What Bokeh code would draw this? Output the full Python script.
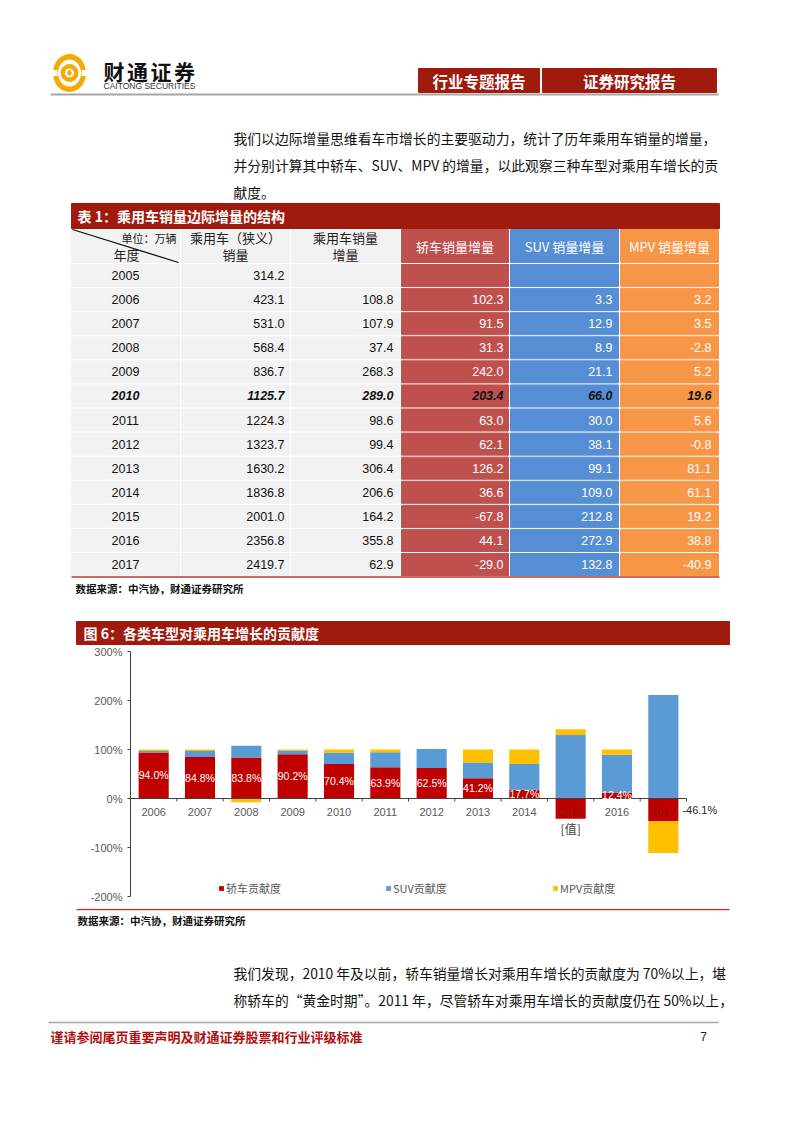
import numpy as np
from bokeh.plotting import figure
from bokeh.models import Range1d, Legend, LegendItem, FixedTicker, PrintfTickFormatter
from bokeh.embed import file_html
from bokeh.resources import INLINE
from bokeh.core.properties import value

# ---------------- data: table ----------------
table_years = ["2005", "2006", "2007", "2008", "2009", "2010", "2011",
               "2012", "2013", "2014", "2015", "2016", "2017"]
total_sales = [314.2, 423.1, 531.0, 568.4, 836.7, 1125.7, 1224.3,
               1323.7, 1630.2, 1836.8, 2001.0, 2356.8, 2419.7]
total_incr = [None, 108.8, 107.9, 37.4, 268.3, 289.0, 98.6,
              99.4, 306.4, 206.6, 164.2, 355.8, 62.9]
sedan_incr = [None, 102.3, 91.5, 31.3, 242.0, 203.4, 63.0,
              62.1, 126.2, 36.6, -67.8, 44.1, -29.0]
suv_incr = [None, 3.3, 12.9, 8.9, 21.1, 66.0, 30.0,
            38.1, 99.1, 109.0, 212.8, 272.9, 132.8]
mpv_incr = [None, 3.2, 3.5, -2.8, 5.2, 19.6, 5.6,
            -0.8, 81.1, 61.1, 19.2, 38.8, -40.9]
highlight_year = "2010"

# ---------------- data: chart ----------------
chart_years = ["2006", "2007", "2008", "2009", "2010", "2011",
               "2012", "2013", "2014", "2015", "2016", "2017"]
sedan_pct = [94.0, 84.8, 83.8, 90.2, 70.4, 63.9, 62.5, 41.2, 17.7, -41.3, 12.4, -46.1]
suv_pct = [3.0, 12.0, 23.8, 7.9, 22.8, 30.4, 38.3, 32.3, 52.8, 129.6, 76.7, 211.1]
mpv_pct = [2.9, 3.2, -7.5, 1.9, 6.8, 5.7, -0.8, 26.5, 29.6, 11.7, 10.9, -65.0]
y_ticks = [-200, -100, 0, 100, 200, 300]
series_names = ["轿车贡献度", "SUV贡献度", "MPV贡献度"]

# ---------------- styles ----------------
CJK = "Noto Sans CJK SC"
NUM = "Liberation Sans Narrow, Liberation Sans, Noto Sans CJK SC"
ARIAL = "Liberation Sans, Noto Sans CJK SC"
DARKRED = "#A01A0E"
C_RED = "#C0504D"
C_BLUE = "#558ED5"
C_ORANGE = "#F79646"
BAR_RED = "#C00000"
BAR_BLUE = "#5B9BD5"
BAR_YEL = "#FFC000"
W = 786
OX, OY = 0, 0   # page position of the figures' top-left corner


def page_fig(y0, y1):
    p = figure(width=W, height=y1 - y0, x_range=Range1d(OX, OX + W), y_range=Range1d(y1, y0),
               output_backend="svg", toolbar_location=None, min_border=0,
               x_axis_location=None, y_axis_location=None, title=None)
    p.outline_line_color = None
    p.grid.visible = False
    return p


def txt(p, x, y, s, size, color="#222222", font=CJK, align="left", style="normal", baseline="middle"):
    p.text(x=[x], y=[y], text=[s], text_font=value(font), text_font_size=f"{size}px",
           text_color=color, text_align=align, text_baseline=baseline, text_font_style=style)


Y_A0, Y_A1, Y_B1 = OY, 645, 908
Y_C1 = OY + 1117

# =============== top part ===============
pA = page_fig(Y_A0, Y_A1)

# logo
GOLD = "#F4AA00"
pA.ellipse(x=[69], y=[72.5], width=33, height=38, fill_color=GOLD, line_color=None)
pA.ellipse(x=[69], y=[72.5], width=23, height=27, fill_color="white", line_color=None)
pA.quad(left=[51, 81.5], right=[56.5, 87], top=[70, 70], bottom=[75, 75], color="white")
pA.annulus(x=[69], y=[72.5], inner_radius=5, outer_radius=8.5, color=GOLD)
pA.scatter(x=[69], y=[72.5], size=6, marker="diamond", color=GOLD)

for i, ch in enumerate("财通证券"):
    txt(pA, 103 + i * 23.5, 70, ch, 21, "#111111", style="bold")
txt(pA, 103, 85, "CAITONG SECURITIES", 8.5, "#333333", font=ARIAL)

# header boxes
pA.quad(left=[418, 542], right=[539, 716], top=[68, 68], bottom=[92, 92], color=DARKRED)
txt(pA, 478.5, 80, "行业专题报告", 15.5, "white", align="center", style="bold")
txt(pA, 629, 80, "证券研究报告", 15.5, "white", align="center", style="bold")
pA.segment(x0=[50], x1=[718], y0=[94], y1=[94], line_color="#A6A6A6", line_width=2)

# paragraph
para1 = ["我们以边际增量思维看车市增长的主要驱动力，统计了历年乘用车销量的增量，",
         "并分别计算其中轿车、SUV、MPV 的增量，以此观察三种车型对乘用车增长的贡",
         "献度。"]
for k, line in enumerate(para1):
    txt(pA, 233, 137 + k * 27, line, 13.8, "#111111")

# table title
pA.quad(left=[71], right=[719], top=[203], bottom=[228], color=DARKRED)
txt(pA, 77, 215.5, "表 1：乘用车销量边际增量的结构", 14, "white", style="bold")

cols = [71, 180, 290, 400, 509, 619, 719]
col_colors = ["#F2F2F2", "#F2F2F2", "#F2F2F2", C_RED, C_BLUE, C_ORANGE]
row_top = 263.0
row_h = 24.08
nrows = len(table_years)

# header row cells
for j in range(6):
    pA.quad(left=[cols[j] + (0 if j == 0 else 1)], right=[cols[j + 1] - 1],
            top=[229], bottom=[262], color=col_colors[j])
pA.segment(x0=[72], x1=[178], y0=[229], y1=[262], line_color="#111111", line_width=1.3)
txt(pA, 176, 237, "单位：万辆", 11, "#222222", align="right")
txt(pA, 113, 254, "年度", 13, "#222222")
txt(pA, 235, 237, "乘用车（狭义）", 13, "#222222", align="center")
txt(pA, 235, 254, "销量", 13, "#222222", align="center")
txt(pA, 345, 237, "乘用车销量", 13, "#222222", align="center")
txt(pA, 345, 254, "增量", 13, "#222222", align="center")
txt(pA, 454.5, 246, "轿车销量增量", 13, "white", align="center")
txt(pA, 564, 246, "SUV 销量增量", 13, "white", align="center")
txt(pA, 669, 246, "MPV 销量增量", 13, "white", align="center")

# body cells
lefts, rights, tops, bottoms, colors = [], [], [], [], []
for i in range(nrows):
    for j in range(6):
        lefts.append(cols[j] + (0 if j == 0 else 1))
        rights.append(cols[j + 1] - 1)
        tops.append(row_top + i * row_h + 1)
        bottoms.append(row_top + (i + 1) * row_h - 1)
        colors.append(col_colors[j])
pA.quad(left=lefts, right=rights, top=tops, bottom=bottoms, color=colors)


def fmt(v):
    return "" if v is None else f"{v:.1f}"


right_edges = [None, 284, 393, 503, 612, 711]
columns_vals = [total_sales, total_incr, sedan_incr, suv_incr, mpv_incr]
for i in range(nrows):
    yc = row_top + i * row_h + row_h / 2
    hl = table_years[i] == highlight_year
    style = "bold italic" if hl else "normal"
    txt(pA, 125, yc, table_years[i], 12.5, "#111111", font=NUM, align="center", style=style)
    for j, vals in enumerate(columns_vals):
        colr = "#111111" if (j < 2 or hl) else "white"
        txt(pA, right_edges[j + 1], yc, fmt(vals[i]), 12.5, colr, font=NUM, align="right", style=style)

pA.segment(x0=[71], x1=[719], y0=[576.5], y1=[576.5], line_color="#C0392B", line_width=1.5)
txt(pA, 75, 588, "数据来源：中汽协，财通证券研究所", 10.5, "#111111", style="bold")

# chart title bar
pA.quad(left=[76], right=[729], top=[621], bottom=[644], color=DARKRED)
txt(pA, 83, 632.5, "图 6：各类车型对乘用车增长的贡献度", 14, "white", style="bold")

# =============== chart ===============
n = len(chart_years)
xs = np.arange(1, n + 1)
frame_left, frame_right_axis, frame_right = 130, 686, 740
frame_top, frame_bottom = 651, 896
unit = (frame_right_axis - frame_left) / n
x_end = 0.5 + (frame_right - frame_left) / unit

pB = figure(width=W, height=Y_B1 - Y_A1, x_range=Range1d(0.5, x_end), y_range=Range1d(-200, 300),
            output_backend="svg", toolbar_location=None, title=None,
            min_border_left=frame_left - OX, min_border_right=OX + W - frame_right,
            min_border_top=frame_top - Y_A1, min_border_bottom=Y_B1 - frame_bottom,
            x_axis_location=None)
pB.outline_line_color = None
pB.grid.visible = False
pB.yaxis.ticker = FixedTicker(ticks=y_ticks)
pB.yaxis.formatter = PrintfTickFormatter(format="%d%%")
pB.yaxis.axis_line_color = "#404040"
pB.yaxis.major_tick_line_color = "#404040"
pB.yaxis.major_tick_out = 3
pB.yaxis.major_tick_in = 0
pB.yaxis.minor_tick_line_color = None
pB.yaxis.major_label_text_font = ARIAL
pB.yaxis.major_label_text_font_size = "11px"
pB.yaxis.major_label_text_color = "#595959"
pB.yaxis.major_label_standoff = 5

pos = np.zeros(n)
neg = np.zeros(n)
renderers = []
segs = []
for vals, colr in zip([sedan_pct, suv_pct, mpv_pct], [BAR_RED, BAR_BLUE, BAR_YEL]):
    v = np.array(vals, dtype=float)
    b = np.where(v >= 0, pos, neg)
    t = b + v
    pos = np.where(v >= 0, pos + v, pos)
    neg = np.where(v < 0, neg + v, neg)
    segs.append((b, t))
    renderers.append(pB.vbar(x=xs, width=0.65, bottom=b, top=t, fill_color=colr, line_color=None))

# category labels
label_colors = ["#8A1010" if s < 0 else "#595959" for s in sedan_pct]
pB.text(x=xs, y=np.zeros(n), text=chart_years, y_offset=13, text_align="center",
        text_baseline="middle", text_font=value(ARIAL), text_font_size="11px", text_color=label_colors)

# axis line at 0 and ticks between categories
pB.segment(x0=[0.5], x1=[n + 0.5], y0=[0], y1=[0], line_color="#404040", line_width=1.2)
bounds = np.arange(1.5, n + 1.0, 1.0)
pB.segment(x0=bounds, x1=bounds, y0=np.zeros(len(bounds)), y1=np.full(len(bounds), -6.0),
           line_color="#404040", line_width=1)

# data labels for sedan
sb, st = segs[0]
sed = np.array(sedan_pct)
inside = sed > 0
pB.text(x=xs[inside], y=((sb + st) / 2)[inside], text=[f"{v:.1f}%" for v in sed[inside]],
        text_align="center", text_baseline="middle", text_font=value(NUM),
        text_font_size="10.5px", text_color="white")
i15 = chart_years.index("2015")
pB.text(x=[xs[i15]], y=[st[i15]], text=["[值]"], y_offset=10, text_align="center",
        text_baseline="middle", text_font=value(CJK), text_font_size="12px", text_color="#404040")
i17 = chart_years.index("2017")
pB.text(x=[xs[i17] + 0.325], y=[(sb[i17] + st[i17]) / 2], text=[f"{sed[i17]:.1f}%"], x_offset=4,
        text_align="left", text_baseline="middle", text_font=value(ARIAL),
        text_font_size="11px", text_color="#262626")

legend = Legend(items=[LegendItem(label=nm, renderers=[r]) for nm, r in zip(series_names, renderers)],
                orientation="horizontal", location=(88, 0), glyph_width=6, glyph_height=6,
                label_standoff=2, label_width=159, label_height=12, spacing=0, padding=0, margin=0,
                border_line_color=None, background_fill_alpha=0,
                label_text_font=CJK, label_text_font_size="11px", label_text_color="#595959")
pB.add_layout(legend)

# =============== bottom part ===============
pC = page_fig(Y_B1, Y_C1)
pC.segment(x0=[76], x1=[729], y0=[909], y1=[909], line_color="#C0392B", line_width=1.5)
txt(pC, 77, 920, "数据来源：中汽协，财通证券研究所", 10.5, "#111111", style="bold")
para2 = ["我们发现，2010 年及以前，轿车销量增长对乘用车增长的贡献度为 70%以上，堪",
         "称轿车的“黄金时期”。2011 年，尽管轿车对乘用车增长的贡献度仍在 50%以上，"]
for k, line in enumerate(para2):
    txt(pC, 233, 972 + k * 27, line, 13.8, "#111111")
pC.segment(x0=[48], x1=[718], y0=[1022], y1=[1022], line_color="#A6A6A6", line_width=1.5)
txt(pC, 50, 1036, "谨请参阅尾页重要声明及财通证券股票和行业评级标准", 13, "#B01010", style="bold")
txt(pC, 703, 1036, "7", 12, "#222222", font=ARIAL, align="center")

open("out.html", "w").write(file_html([pA, pB, pC], INLINE))
